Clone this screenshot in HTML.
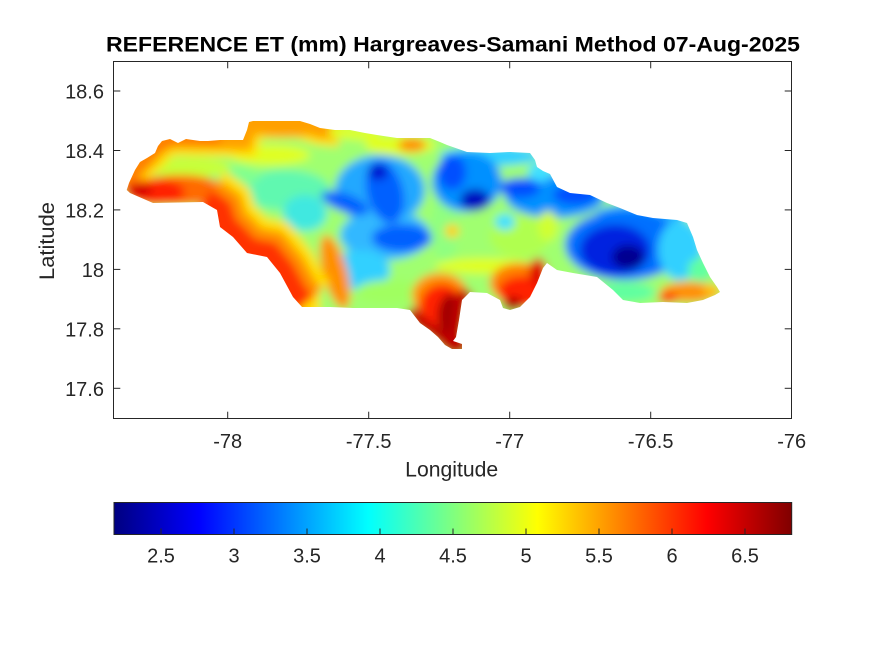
<!DOCTYPE html>
<html>
<head>
<meta charset="utf-8">
<style>
html,body{margin:0;padding:0;background:#ffffff;}
svg{display:block;}
text{font-family:"Liberation Sans",Arial,sans-serif;fill:#262626;}
</style>
</head>
<body>
<svg width="875" height="656" viewBox="0 0 875 656" xmlns="http://www.w3.org/2000/svg">
<defs>
  <clipPath id="island">
    <path d="M126.7,190 L129,183 L135,170 L140,162 L147,158 L155,153 L158,146 L162,141 L170,139 L178,143 L186,139 L200,141 L208,141 L220,140 L243,140 L247,130 L249,122 L253,121 L300,121 L310,124 L320,128 L335,130 L350,130 L365,133 L377,135 L397,138 L430,138 L440,142 L447,145 L467,152 L490,153 L510,152 L530,153 L535,160 L537,167 L543,171 L550,174 L557,187 L570,193 L590,195 L607,203 L620,208 L637,215 L653,218 L677,220 L687,223 L693,237 L697,250 L703,263 L710,277 L717,287 L720,292 L715,295 L703,300 L687,303 L663,302 L640,303 L623,300 L613,290 L597,277 L573,273 L557,270 L547,263 L543,268 L537,283 L530,297 L520,307 L510,310 L503,308 L500,300 L487,293 L470,292 L462,300 L459,320 L456,337 L453,341 L462,344 L462,349 L452,349 L445,345 L438,337 L430,330 L420,323 L410,310 L397,308 L353,308 L330,307 L302,307 L293,297 L280,273 L267,257 L247,253 L233,237 L220,227 L217,210 L203,202 L153,203 L130,193 Z"/>
  </clipPath>
  <filter id="blur" filterUnits="userSpaceOnUse" x="90" y="100" width="660" height="280">
    <feGaussianBlur stdDeviation="4.5"/>
  </filter>
  <linearGradient id="jet" x1="0" y1="0" x2="1" y2="0">
    <stop offset="0" stop-color="#000080"/>
    <stop offset="0.125" stop-color="#0000ff"/>
    <stop offset="0.375" stop-color="#00ffff"/>
    <stop offset="0.625" stop-color="#ffff00"/>
    <stop offset="0.875" stop-color="#ff0000"/>
    <stop offset="1" stop-color="#800000"/>
  </linearGradient>
</defs>

<!-- Title -->
<text x="106" y="51.7" font-size="21" font-weight="bold" textLength="694" lengthAdjust="spacingAndGlyphs" style="fill:#000">REFERENCE ET (mm) Hargreaves-Samani Method  07-Aug-2025</text>

<!-- Map field -->
<g clip-path="url(#island)">
  <g filter="url(#blur)">
    <rect x="100" y="100" width="650" height="270" fill="#a0ff70"/>
    <!-- west interior -->
    <ellipse cx="285" cy="190" rx="45" ry="20" fill="#60f8b0"/>
    <ellipse cx="230" cy="176" rx="30" ry="10" fill="#80ff90"/>
    <ellipse cx="305" cy="213" rx="22" ry="18" fill="#40e8e0"/>
    <ellipse cx="190" cy="168" rx="40" ry="10" fill="#c8ff38"/>
    <ellipse cx="270" cy="155" rx="40" ry="10" fill="#e0ff20"/>
    <!-- central blue region 1 -->
    <ellipse cx="380" cy="190" rx="45" ry="35" fill="#20a8ff"/>
    <ellipse cx="385" cy="235" rx="45" ry="25" fill="#30b8ff"/>
    <ellipse cx="360" cy="270" rx="30" ry="20" fill="#30d0ff"/>
    <ellipse cx="385" cy="192" rx="18" ry="32" transform="rotate(-15 385 192)" fill="#0060ff"/>
    <ellipse cx="378" cy="172" rx="10" ry="8" fill="#0010d0"/>
    <ellipse cx="345" cy="203" rx="25" ry="9" transform="rotate(20 345 203)" fill="#0060ff"/>
    <ellipse cx="402" cy="238" rx="30" ry="14" fill="#0060ff"/>
    <ellipse cx="390" cy="292" rx="35" ry="12" fill="#a0ff60"/>
    <!-- top central -->
    <ellipse cx="400" cy="145" rx="35" ry="10" fill="#e0ff20"/>
    <ellipse cx="412" cy="145" rx="14" ry="7" fill="#ff9000"/>
    <!-- green strip between blues -->
    <ellipse cx="445" cy="228" rx="14" ry="35" fill="#90ff80"/>
    <ellipse cx="452" cy="231" rx="7" ry="7" fill="#ffd000"/>
    <!-- blue region 2 -->
    <ellipse cx="490" cy="156" rx="50" ry="10" fill="#30d0ff"/>
    <ellipse cx="467" cy="182" rx="35" ry="30" fill="#0090ff"/>
    <ellipse cx="452" cy="172" rx="14" ry="18" fill="#0050ff"/>
    <ellipse cx="475" cy="200" rx="15" ry="11" fill="#0010c0"/>
    <!-- blue region 3 -->
    <ellipse cx="555" cy="196" rx="50" ry="22" fill="#0090ff"/>
    <ellipse cx="520" cy="188" rx="20" ry="10" fill="#0050ff"/>
    <ellipse cx="575" cy="195" rx="22" ry="10" fill="#0050ff"/>
    <ellipse cx="540" cy="172" rx="12" ry="10" fill="#40e0ff"/>
    <!-- green-yellow east-central -->
    <ellipse cx="520" cy="236" rx="30" ry="22" fill="#b0ff50"/>
    <ellipse cx="548" cy="226" rx="10" ry="15" fill="#d0ff30"/>
    <ellipse cx="505" cy="222" rx="10" ry="8" fill="#40e0ff"/>
    <!-- region 4 (east dark) -->
    <ellipse cx="640" cy="215" rx="45" ry="12" fill="#20b0ff"/>
    <ellipse cx="625" cy="245" rx="60" ry="35" fill="#0070ff"/>
    <ellipse cx="615" cy="250" rx="35" ry="25" fill="#0020e0"/>
    <ellipse cx="628" cy="257" rx="16" ry="12" fill="#000090"/>
    <ellipse cx="680" cy="250" rx="22" ry="30" fill="#30d0ff"/>
    <ellipse cx="700" cy="270" rx="12" ry="12" fill="#60ffa0"/>
    <ellipse cx="625" cy="292" rx="30" ry="10" fill="#60ffa0"/>
    <!-- diagonal orange strip -->
    <ellipse cx="335" cy="272" rx="12" ry="38" transform="rotate(-15 335 272)" fill="#ff9000"/>
    <!-- coasts -->
    <polyline points="126,190 135,170 147,158 158,146 170,139 186,139 243,140 249,122 300,121 320,128 340,130" fill="none" stroke="#ffe000" stroke-width="34"/>
    <polyline points="126,190 135,170 147,158 158,146 170,139 186,139 243,140 249,122 300,121 320,128 340,130" fill="none" stroke="#ffa000" stroke-width="20"/>
    <polyline points="126,190 135,170 147,158 158,146 170,139 186,139 220,140" fill="none" stroke="#ff7000" stroke-width="8"/>
    <ellipse cx="285" cy="128" rx="38" ry="9" fill="#ffa000"/>
    <polyline points="330,131 380,136" fill="none" stroke="#e0ff20" stroke-width="12"/>
    <ellipse cx="180" cy="190" rx="45" ry="15" fill="#ff6a00"/>
    <ellipse cx="155" cy="192" rx="30" ry="13" fill="#ff2000"/>
    <ellipse cx="140" cy="190" rx="12" ry="6" fill="#d00000"/>
    <polyline points="203,202 217,212 222,228 233,238 247,253 267,257 280,273 293,297 302,307 320,307" fill="none" stroke="#ffe000" stroke-width="76"/>
    <polyline points="203,202 217,212 222,228 233,238 247,253 267,257 280,273 293,297 302,307" fill="none" stroke="#ff9000" stroke-width="55"/>
    <polyline points="203,202 217,212 222,228 233,238 247,253 267,257 280,273 293,297 302,307" fill="none" stroke="#ff3000" stroke-width="32"/>
    <ellipse cx="485" cy="266" rx="50" ry="8" fill="#e0ff20"/>
    <ellipse cx="440" cy="295" rx="28" ry="22" fill="#ff9000"/>
    <ellipse cx="442" cy="306" rx="22" ry="22" fill="#ff2000"/>
    <ellipse cx="450" cy="316" rx="12" ry="22" fill="#a00000"/>
    <polyline points="410,310 420,323 430,330 440,337 447,344 455,349 462,345 456,337 459,320 462,300 470,292" fill="none" stroke="#c00000" stroke-width="14"/>
    <ellipse cx="520" cy="283" rx="30" ry="20" fill="#ff8000"/>
    <ellipse cx="522" cy="292" rx="24" ry="16" fill="#ff2000"/>
    <ellipse cx="513" cy="304" rx="10" ry="7" fill="#b00000"/>
    <ellipse cx="538" cy="272" rx="9" ry="14" fill="#e00000"/>
    <ellipse cx="690" cy="292" rx="30" ry="10" fill="#ff9000"/>
    <ellipse cx="668" cy="298" rx="10" ry="5" fill="#ff3000"/>
    <ellipse cx="712" cy="290" rx="9" ry="6" fill="#ffc000"/>
  </g>
</g>

<!-- Axes box -->
<rect x="113.5" y="61.5" width="678" height="357" fill="none" stroke="#262626" stroke-width="1"/>
<g stroke="#262626" stroke-width="1">
  <line x1="227.7" y1="418.5" x2="227.7" y2="411.7"/>
  <line x1="368.7" y1="418.5" x2="368.7" y2="411.7"/>
  <line x1="509.7" y1="418.5" x2="509.7" y2="411.7"/>
  <line x1="650.7" y1="418.5" x2="650.7" y2="411.7"/>
  <line x1="227.7" y1="61.5" x2="227.7" y2="68.3"/>
  <line x1="368.7" y1="61.5" x2="368.7" y2="68.3"/>
  <line x1="509.7" y1="61.5" x2="509.7" y2="68.3"/>
  <line x1="650.7" y1="61.5" x2="650.7" y2="68.3"/>
  <line x1="113.5" y1="91" x2="120.3" y2="91"/>
  <line x1="113.5" y1="150.5" x2="120.3" y2="150.5"/>
  <line x1="113.5" y1="209.9" x2="120.3" y2="209.9"/>
  <line x1="113.5" y1="269.4" x2="120.3" y2="269.4"/>
  <line x1="113.5" y1="328.8" x2="120.3" y2="328.8"/>
  <line x1="113.5" y1="388.3" x2="120.3" y2="388.3"/>
  <line x1="791.5" y1="91" x2="784.7" y2="91"/>
  <line x1="791.5" y1="150.5" x2="784.7" y2="150.5"/>
  <line x1="791.5" y1="209.9" x2="784.7" y2="209.9"/>
  <line x1="791.5" y1="269.4" x2="784.7" y2="269.4"/>
  <line x1="791.5" y1="328.8" x2="784.7" y2="328.8"/>
  <line x1="791.5" y1="388.3" x2="784.7" y2="388.3"/>
</g>

<!-- x tick labels -->
<g font-size="20" text-anchor="middle">
  <text x="227.7" y="448">-78</text>
  <text x="368.7" y="448">-77.5</text>
  <text x="509.7" y="448">-77</text>
  <text x="650.7" y="448">-76.5</text>
  <text x="791.7" y="448">-76</text>
</g>
<!-- y tick labels -->
<g font-size="20" text-anchor="end">
  <text x="104" y="98.5">18.6</text>
  <text x="104" y="158">18.4</text>
  <text x="104" y="217.4">18.2</text>
  <text x="104" y="276.9">18</text>
  <text x="104" y="336.3">17.8</text>
  <text x="104" y="395.8">17.6</text>
</g>

<text x="451.7" y="476.7" font-size="21" text-anchor="middle" textLength="93" lengthAdjust="spacingAndGlyphs">Longitude</text>
<text transform="translate(54,241) rotate(-90)" font-size="21" text-anchor="middle" textLength="78" lengthAdjust="spacingAndGlyphs">Latitude</text>

<!-- Colorbar -->
<rect x="114" y="502.5" width="677.7" height="32" fill="url(#jet)" stroke="#262626" stroke-width="1"/>
<g stroke="#262626" stroke-width="1">
  <line x1="161" y1="534.5" x2="161" y2="528.5"/>
  <line x1="234" y1="534.5" x2="234" y2="528.5"/>
  <line x1="307" y1="534.5" x2="307" y2="528.5"/>
  <line x1="380" y1="534.5" x2="380" y2="528.5"/>
  <line x1="453" y1="534.5" x2="453" y2="528.5"/>
  <line x1="526" y1="534.5" x2="526" y2="528.5"/>
  <line x1="599" y1="534.5" x2="599" y2="528.5"/>
  <line x1="672" y1="534.5" x2="672" y2="528.5"/>
  <line x1="745" y1="534.5" x2="745" y2="528.5"/>
</g>
<g font-size="20" text-anchor="middle">
  <text x="161" y="562.7">2.5</text>
  <text x="234" y="562.7">3</text>
  <text x="307" y="562.7">3.5</text>
  <text x="380" y="562.7">4</text>
  <text x="453" y="562.7">4.5</text>
  <text x="526" y="562.7">5</text>
  <text x="599" y="562.7">5.5</text>
  <text x="672" y="562.7">6</text>
  <text x="745" y="562.7">6.5</text>
</g>
</svg>
</body>
</html>
